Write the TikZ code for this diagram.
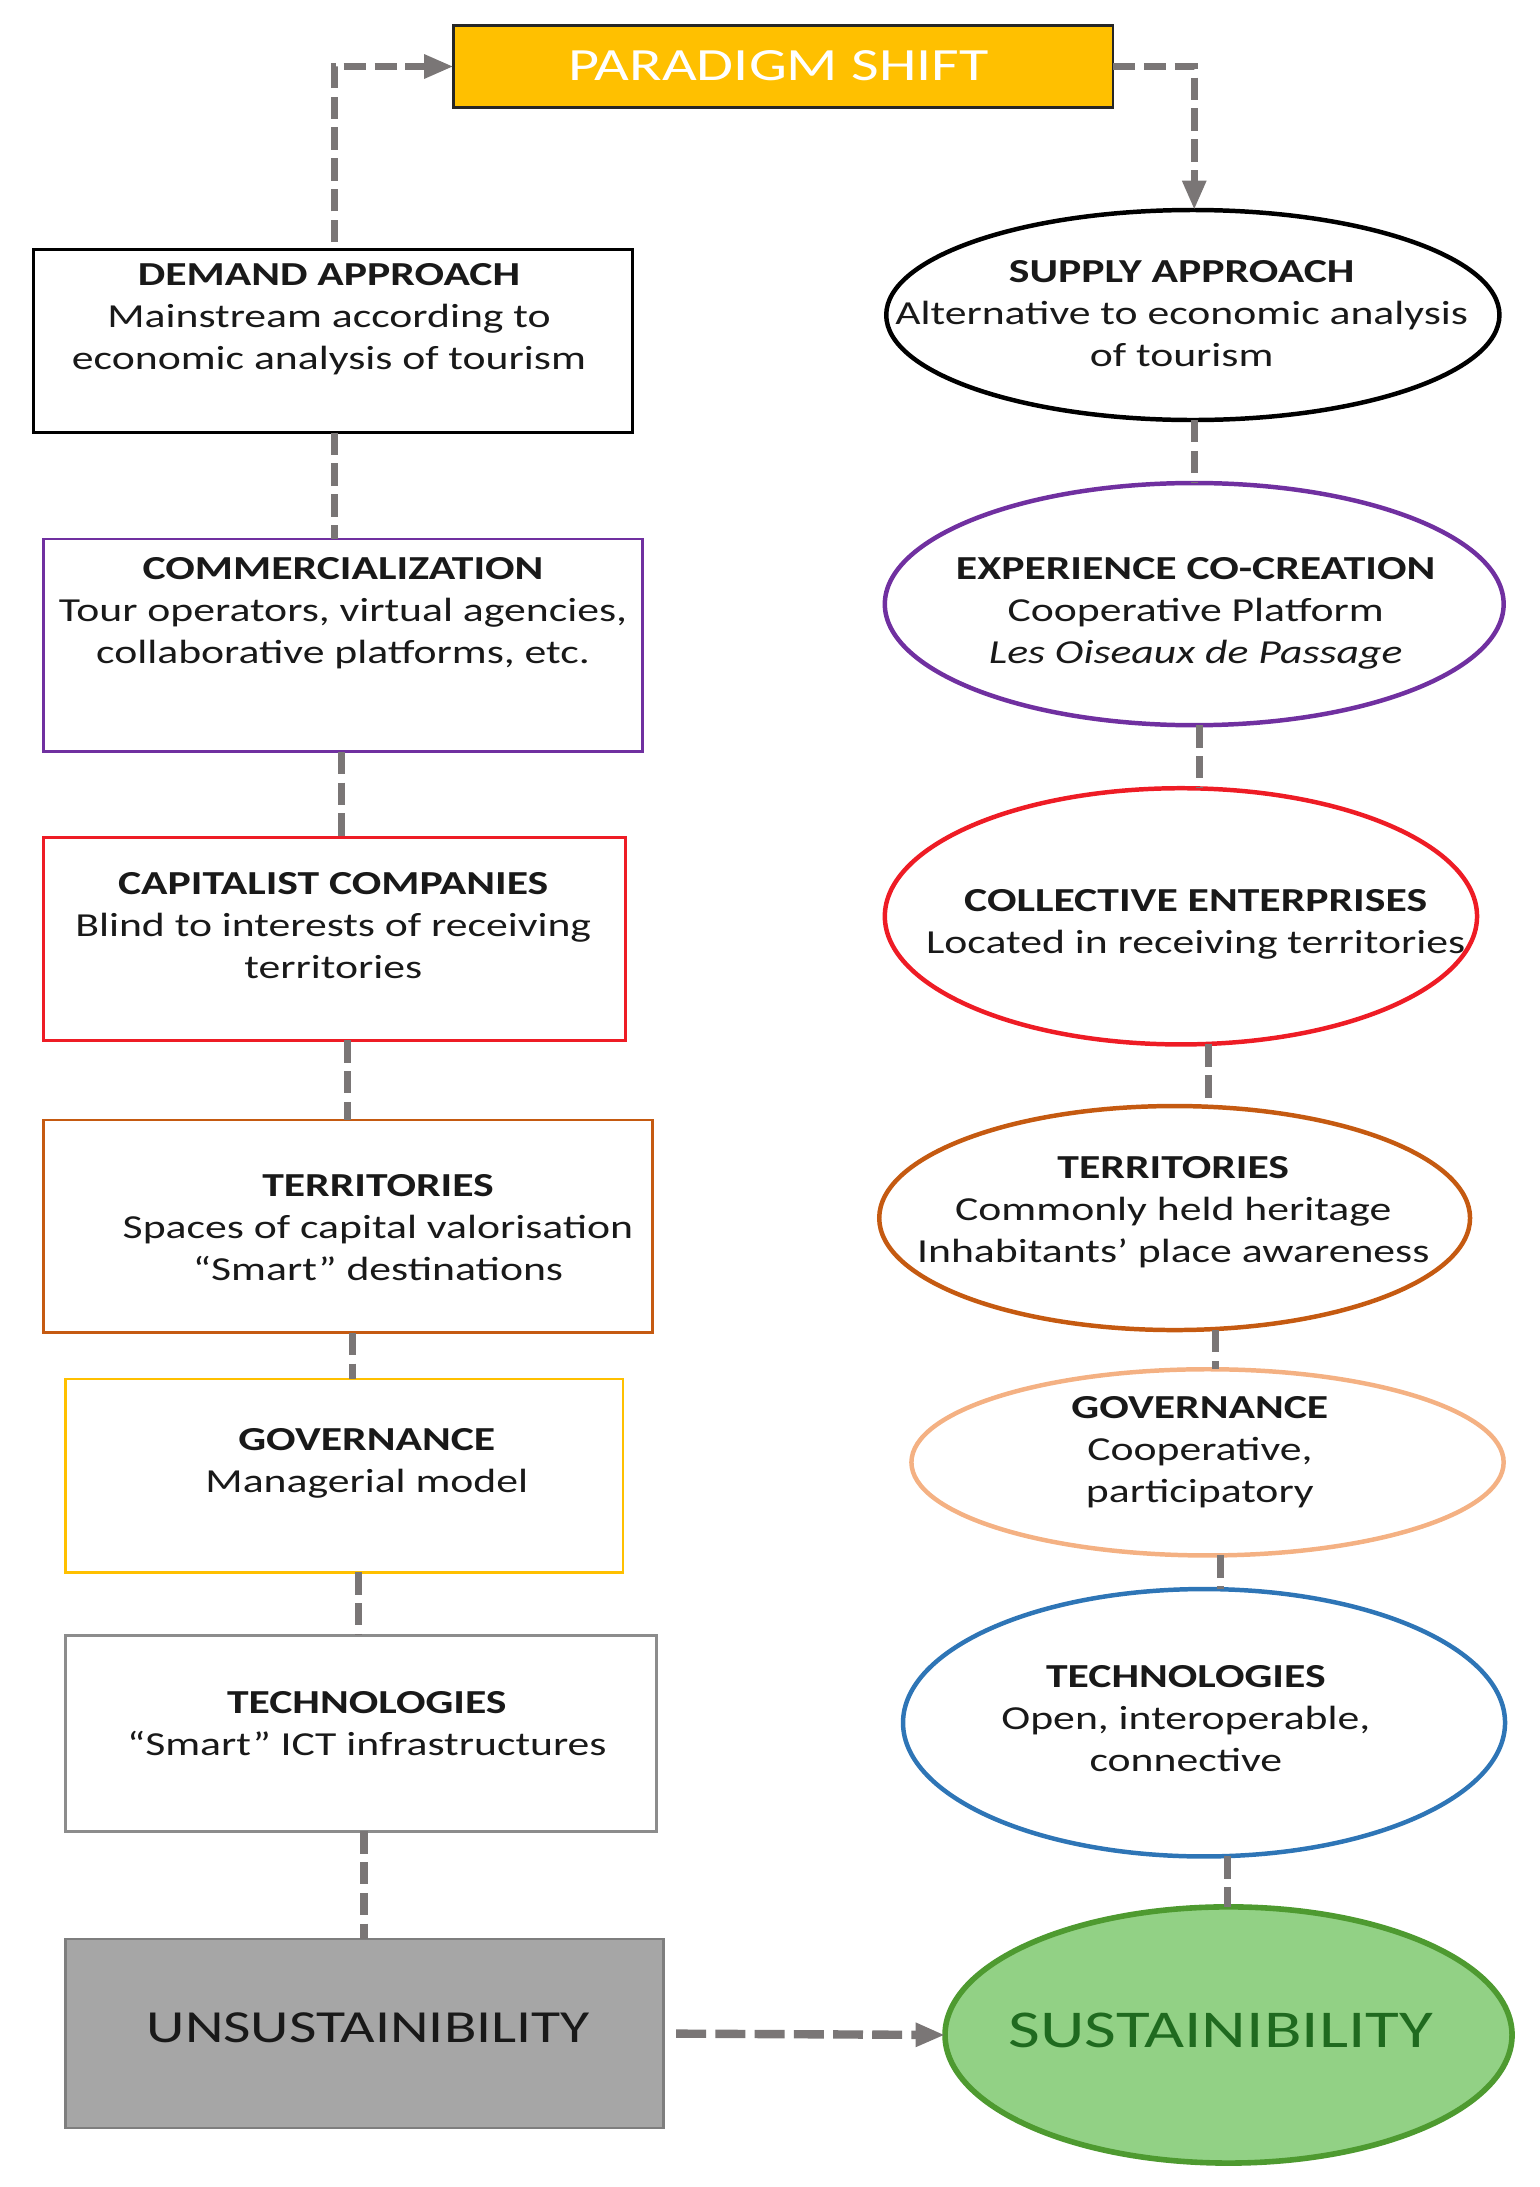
\documentclass[tikz,border=0pt]{standalone}
\usepackage{fontspec}
\setmainfont[FakeStretch=1.3]{Carlito}
\usetikzlibrary{arrows.meta,shapes.geometric,calc}
\definecolor{gold}{HTML}{FFC000}
\definecolor{purp}{HTML}{7030A0}
\definecolor{redc}{HTML}{EE1C25}
\definecolor{brownc}{HTML}{C55A11}
\definecolor{salmon}{HTML}{F4B183}
\definecolor{bluec}{HTML}{2E75B6}
\definecolor{greyb}{HTML}{8C8C8C}
\definecolor{greyfill}{HTML}{A6A6A6}
\definecolor{dashgrey}{HTML}{7A7676}
\definecolor{greenfill}{HTML}{92D185}
\definecolor{greenline}{HTML}{4E9A30}
\definecolor{greentext}{HTML}{1F6A1F}
\begin{document}
\begin{tikzpicture}[x=0.5pt,y=-0.5pt,
  frame/.style={draw, rectangle, inner sep=0pt, outer sep=0pt, line width=1pt},
  oval/.style={draw, ellipse, inner sep=0pt, outer sep=0pt, line width=1.6pt},
  txt/.style={align=center, inner sep=0pt, text=black!90, font=\fontsize{12}{15}\selectfont},
  conn/.style={draw=dashgrey, line width=2.6pt, dash pattern=on 8pt off 3pt},
  hconn/.style={draw=dashgrey, line width=3pt, dash pattern=on 10.7pt off 3.3pt},
  arr/.style={-{Triangle[length=10.5pt,width=8pt]}}]
\useasboundingbox (0,0) rectangle (1099.3,1562.1);

% paradigm
\node[frame, draw=black!85, fill=gold, minimum width=235.5pt, minimum height=29.5pt] (paradigm) at (559.5,47.5) {};
\node[txt, text=white, font=\fontsize{16.5}{20}\selectfont] (paradigmT) at (556,47) {PARADIGM SHIFT};

% left column boxes
\node[frame, draw=black, minimum width=214pt, minimum height=65.5pt] (demand) at (238,243.5) {};
\node[txt] (demandT) at (235,228) {\textbf{DEMAND APPROACH}\\Mainstream according to\\economic analysis of tourism};

\node[frame, draw=purp, minimum width=214pt, minimum height=76pt] (comm) at (245,461) {};
\node[txt] (commT) at (245,438) {\textbf{COMMERCIALIZATION}\\Tour operators, virtual agencies,\\collaborative platforms, etc.};

\node[frame, draw=redc, minimum width=208pt, minimum height=72.5pt] (capit) at (239,670.5) {};
\node[txt] (capitT) at (238,661) {\textbf{CAPITALIST COMPANIES}\\Blind to interests of receiving\\territories};

\node[frame, draw=brownc, minimum width=217.5pt, minimum height=76pt] (terrB) at (248.5,876) {};
\node[txt] (terrBT) at (270,877) {\textbf{TERRITORIES}\\Spaces of capital valorisation\\“Smart” destinations};

\node[frame, draw=gold, minimum width=199pt, minimum height=69pt] (govB) at (246,1054) {};
\node[txt] (govBT) at (262,1045) {\textbf{GOVERNANCE}\\Managerial model};

\node[frame, draw=greyb, minimum width=211pt, minimum height=70pt] (techB) at (258,1238) {};
\node[txt] (techBT) at (262,1231) {\textbf{TECHNOLOGIES}\\“Smart” ICT infrastructures};

\node[frame, draw=greyb!90!black, fill=greyfill, minimum width=213.5pt, minimum height=67.5pt] (unsus) at (260.5,1452.5) {};
\node[txt, font=\fontsize{16.4}{20}\selectfont] (unsusT) at (263,1448) {UNSUSTAINIBILITY};

% right column ellipses
\node[oval, draw=black, minimum width=219pt, minimum height=75pt] (supply) at (852,225) {};
\node[txt] (supplyT) at (844,224) {\textbf{SUPPLY APPROACH}\\Alternative to economic analysis\\of tourism};

\node[oval, draw=purp, minimum width=221pt, minimum height=86.5pt] (exper) at (853,431.5) {};
\node[txt] (experT) at (854,438) {\textbf{EXPERIENCE CO-CREATION}\\Cooperative Platform\\\textit{Les Oiseaux de Passage}};

\node[oval, draw=redc, minimum width=211.5pt, minimum height=91.5pt] (collect) at (843.5,654.5) {};
\node[txt] (collectT) at (854,660.5) {\textbf{COLLECTIVE ENTERPRISES}\\Located in receiving territories};

\node[oval, draw=brownc, minimum width=211pt, minimum height=80pt] (terrE) at (839,870) {};
\node[txt] (terrET) at (838,866) {\textbf{TERRITORIES}\\Commonly held heritage\\Inhabitants’ place awareness};

\node[oval, draw=salmon, minimum width=211.5pt, minimum height=66.5pt] (govE) at (862.5,1044.5) {};
\node[txt] (govET) at (857,1037.5) {\textbf{GOVERNANCE}\\Cooperative,\\participatory};

\node[oval, draw=bluec, minimum width=215pt, minimum height=95.5pt] (techE) at (860,1230.5) {};
\node[txt] (techET) at (847,1227.5) {\textbf{TECHNOLOGIES}\\Open, interoperable,\\connective};

\node[oval, draw=greenline, line width=2pt, fill=greenfill, minimum width=202.5pt, minimum height=91.5pt] (sustain) at (877.5,1453.5) {};
\node[txt, text=greentext, font=\fontsize{19}{22}\selectfont] (sustainT) at (872,1450) {SUSTAINIBILITY};

% connector x positions
\coordinate (L1) at (239,0);
\coordinate (L2) at (244,0);
\coordinate (L3) at (248,0);
\coordinate (L4) at (252,0);
\coordinate (L5) at (256,0);
\coordinate (L6) at (260,0);
\coordinate (R0) at (853,0);
\coordinate (R1) at (853,0);
\coordinate (R2) at (857,0);
\coordinate (R3) at (863,0);
\coordinate (R4) at (868,0);
\coordinate (R5) at (872,0);
\coordinate (R6) at (877,0);

% top arrows
\draw[conn, arr] ([yshift=2.5pt]demand.north -| L1) |- (paradigm.west);
\draw[conn, arr] (paradigm.east) -| (supply.north -| R0);

% left connectors
\draw[conn] (demand.south -| L1) -- (comm.north -| L1);
\draw[conn] (comm.south -| L2) -- (capit.north -| L2);
\draw[conn] (capit.south -| L3) -- (terrB.north -| L3);
\draw[conn] (terrB.south -| L4) -- (govB.north -| L4);
\draw[conn] (govB.south -| L5) -- (techB.north -| L5);
\draw[conn] (techB.south -| L6) -- (unsus.north -| L6);

% right connectors
\draw[conn] (supply.south -| R1) -- (exper.north -| R1);
\draw[conn] (exper.south -| R2) -- (collect.north -| R2);
\draw[conn] (collect.south -| R3) -- (terrE.north -| R3);
\draw[conn] (terrE.south -| R4) -- (govE.north -| R4);
\draw[conn] (govE.south -| R5) -- (techE.north -| R5);
\draw[conn] (techE.south -| R6) -- (sustain.north -| R6);

% bottom arrow
\draw[hconn, arr, shorten <=4.5pt] (unsus.east) -- (sustain.west);
\end{tikzpicture}
\end{document}
